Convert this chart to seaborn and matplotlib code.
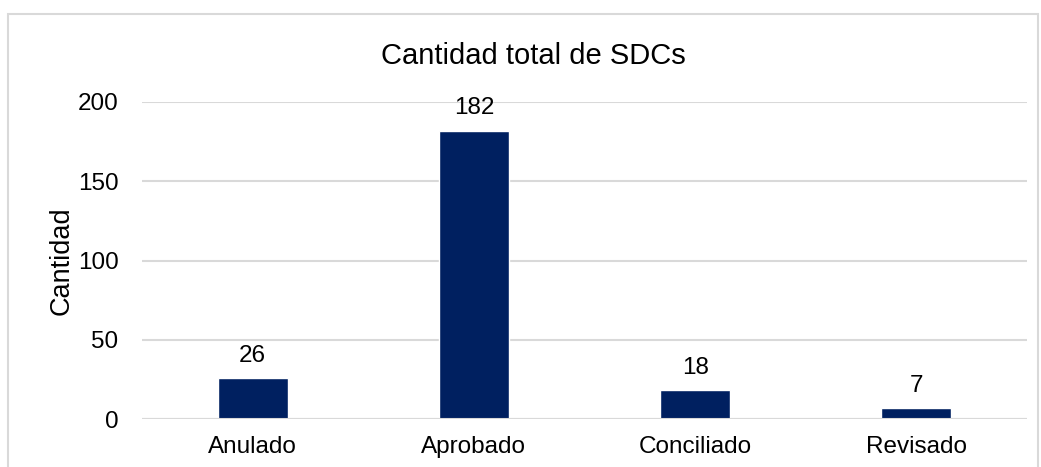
import matplotlib
matplotlib.use("Agg")
import matplotlib.pyplot as plt
import seaborn as sns
import pandas as pd
from matplotlib.patches import Rectangle

sns.set_style("white")
plt.rcParams['font.family'] = ['Liberation Sans', 'DejaVu Sans']
plt.rcParams['text.color'] = 'black'
plt.rcParams['axes.labelcolor'] = 'black'

estados = ["Anulado", "Aprobado", "Conciliado", "Revisado"]
cantidades = [26, 182, 18, 7]
y_ticks = [0, 50, 100, 150, 200]

df = pd.DataFrame({"Estado": estados, "Cantidad": cantidades})

fig = plt.figure(figsize=(10.41, 4.67), dpi=100)
ax = fig.add_axes([142 / 1041, 1 - 419 / 467, 885 / 1041, 317 / 467])

sns.barplot(data=df, x="Estado", y="Cantidad", color="#002060", width=0.317,
            saturation=1, ax=ax, zorder=3)

ax.set_ylim(0, 200)
ax.set_yticks(y_ticks)
ax.yaxis.grid(True, color="#d9d9d9", linewidth=1.5, zorder=0)
ax.xaxis.grid(False)
for s in ax.spines.values():
    s.set_visible(False)
ax.axhline(0, color="#d9d9d9", linewidth=1.5, zorder=4)

ax.tick_params(axis="y", length=0, pad=17, labelsize=17.5, labelcolor="black")
ax.tick_params(axis="x", length=0, pad=12, labelsize=17.5, labelcolor="black")
ax.set_xlabel("")
ax.set_ylabel("Cantidad", fontsize=19.5, labelpad=2, color="black")

fig.text(533 / 1041, 1 - 56 / 467, "Cantidad total de SDCs", fontsize=21,
         ha="center", va="center", color="black")

ax.bar_label(ax.containers[0], labels=[str(v) for v in cantidades],
             fontsize=17.5, padding=8, color="black")

# outer chart frame
fig.patches.append(Rectangle((8 / 1041, -0.1), 1030 / 1041, 1.1 - 14 / 467,
                             transform=fig.transFigure, fill=False,
                             edgecolor="#d9d9d9", linewidth=1.5, zorder=0))

fig.savefig("out.png", dpi=100)
